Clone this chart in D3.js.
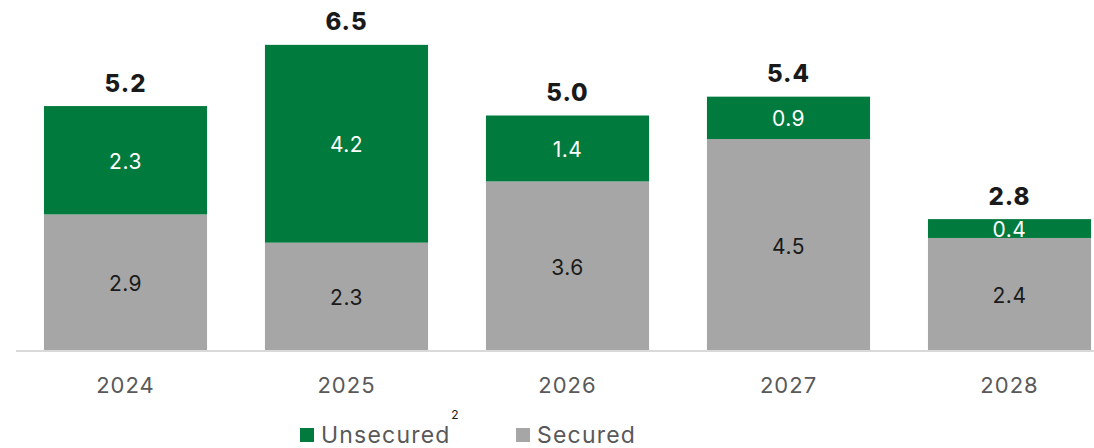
<!DOCTYPE html>
<html>
<head>
<meta charset="utf-8">
<script src="https://cdn.jsdelivr.net/npm/d3@7"></script>
<style>
  html, body { margin: 0; padding: 0; background: #fff; }
  svg { display: block; font-family: "Inter", "Open Sans", sans-serif; }
</style>
</head>
<body>
<svg id="chart" width="1094" height="448"></svg>
<script>
const years = ["2024", "2025", "2026", "2027", "2028"];
const secured = [2.9, 2.3, 3.6, 4.5, 2.4];
const unsecured = [2.3, 4.2, 1.4, 0.9, 0.4];
const totals = [5.2, 6.5, 5.0, 5.4, 2.8];
const seriesNames = ["Unsecured", "Secured"];

const colors = { Unsecured: "#007A3D", Secured: "#A6A6A6" };

const svg = d3.select("#chart");
const baseY = 351;

const x = d3.scaleBand()
  .domain(years)
  .range([15, 1120])
  .paddingInner(0.262)
  .paddingOuter(0.131);

const y = d3.scaleLinear()
  .domain([0, 7])
  .range([baseY, baseY - 7 * 47.1]);

const rows = years.map((yr, i) => ({ year: yr, Secured: secured[i], Unsecured: unsecured[i], total: totals[i] }));
const stack = d3.stack().keys(["Secured", "Unsecured"]);
const layers = stack(rows);

// stacked bars
const g = svg.append("g");
layers.forEach(layer => {
  const key = layer.key;
  g.selectAll(null)
    .data(layer)
    .enter()
    .append("rect")
    .attr("x", d => x(d.data.year))
    .attr("width", x.bandwidth())
    .attr("y", d => y(d[1]))
    .attr("height", d => y(d[0]) - y(d[1]))
    .attr("fill", colors[key]);

  g.selectAll(null)
    .data(layer)
    .enter()
    .append("text")
    .attr("x", d => x(d.data.year) + x.bandwidth() / 2)
    .attr("y", d => (y(d[0]) + y(d[1])) / 2 + 1)
    .attr("text-anchor", "middle")
    .attr("dominant-baseline", "central")
    .attr("font-size", 21)
    .attr("letter-spacing", 0.5)
    .attr("fill", key === "Unsecured" ? "#ffffff" : "#1a1a1a")
    .text(d => d3.format(".1f")(d.data[key]));
});

// totals above bars
g.selectAll(null)
  .data(rows)
  .enter()
  .append("text")
  .attr("x", d => x(d.year) + x.bandwidth() / 2)
  .attr("y", d => y(d.total) - 23)
  .attr("text-anchor", "middle")
  .attr("dominant-baseline", "central")
  .attr("font-size", 24)
  .attr("font-weight", 800)
  .attr("letter-spacing", 1)
  .attr("fill", "#1a1a1a")
  .text(d => d3.format(".1f")(d.total));

// category axis
const axis = svg.append("g")
  .attr("transform", `translate(0,${baseY})`)
  .call(d3.axisBottom(x).tickSize(0).tickPadding(26));
axis.select(".domain").attr("stroke", "#d9d9d9").attr("stroke-width", 2)
  .attr("d", `M16,0H1094`);
axis.selectAll(".tick text")
  .attr("font-size", 22)
  .attr("letter-spacing", 1)
  .attr("fill", "#595959")
  .attr("font-family", "Inter, 'Open Sans', sans-serif");

// legend
const legendX = [300, 516];
const legend = svg.append("g");
seriesNames.forEach((name, i) => {
  const lg = legend.append("g").attr("transform", `translate(${legendX[i]},428)`);
  lg.append("rect").attr("width", 14).attr("height", 14).attr("fill", colors[name]);
  lg.append("text")
    .attr("x", 21)
    .attr("y", 7)
    .attr("dominant-baseline", "central")
    .attr("font-size", 23)
    .attr("letter-spacing", 1.2)
    .attr("fill", "#595959")
    .text(name);
});
legend.append("text")
  .attr("x", 455)
  .attr("y", 414)
  .attr("text-anchor", "middle")
  .attr("dominant-baseline", "central")
  .attr("font-size", 12)
  .attr("fill", "#1a1a1a")
  .text("2");
</script>
</body>
</html>
